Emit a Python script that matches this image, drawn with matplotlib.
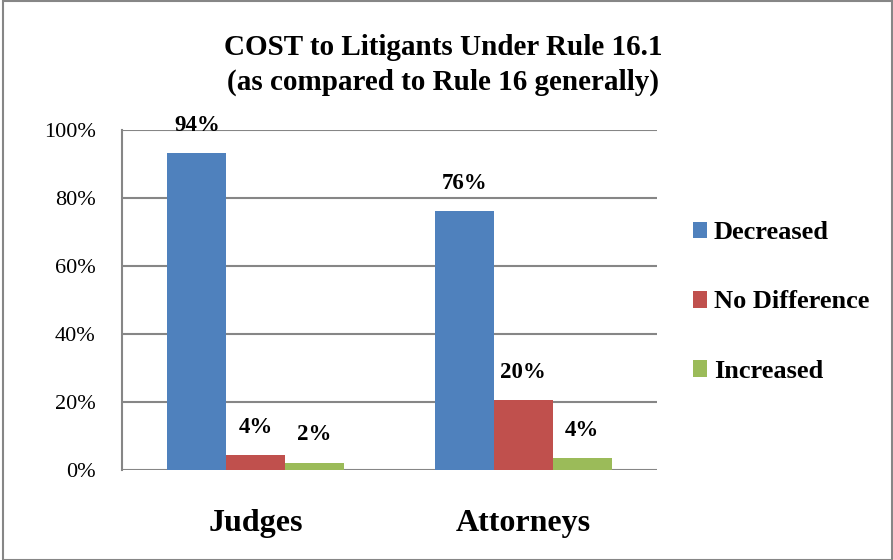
import matplotlib.pyplot as plt
import numpy as np
from matplotlib.patches import Rectangle

categories = ["Judges", "Attorneys"]
series = ["Decreased", "No Difference", "Increased"]
decreased = [0.93, 0.76]
no_difference = [0.045, 0.205]
increased = [0.022, 0.034]
value_labels = [["94%", "76%"], ["4%", "20%"], ["2%", "4%"]]
colors = ["#4F81BD", "#C0504D", "#9BBB59"]
yticks = [0, 0.2, 0.4, 0.6, 0.8, 1.0]
ytick_labels = ["0%", "20%", "40%", "60%", "80%", "100%"]

plt.rcParams['font.family'] = ['Liberation Serif', 'DejaVu Serif']

fig = plt.figure(figsize=(8.93, 5.6), dpi=100)
ax = fig.add_axes([122/893, 1-470/560, (657-122)/893, (470-129.5)/560])

x = np.arange(len(categories))
w = 0.22
for i, (vals, name) in enumerate(zip([decreased, no_difference, increased], series)):
    pos = x + (i - 1) * w
    ax.bar(pos, vals, width=w, color=colors[i], label=name, zorder=3)
    for p, v, lab in zip(pos, vals, value_labels[i]):
        ax.text(p, v + 0.05, lab, ha='center', va='bottom', fontsize=16.5,
                fontweight='bold')

ax.set_xlim(-0.5, 1.5)
ax.set_ylim(0, 1.0)
ax.set_yticks(yticks)
ax.set_yticklabels(ytick_labels, fontsize=16)
ax.set_xticks(x)
ax.set_xticklabels(categories, fontsize=23, fontweight='bold')
ax.tick_params(axis='y', length=0, pad=19)
ax.tick_params(axis='x', length=0, pad=28)
ax.grid(axis='y', color='#868686', linewidth=1.5, zorder=0)
for s in ['top', 'right', 'bottom']:
    ax.spines[s].set_visible(False)
ax.spines['left'].set_color('#868686')
ax.spines['left'].set_linewidth(1.5)

fig.text(443/893, 1-65/560, "COST to Litigants Under Rule 16.1\n(as compared to Rule 16 generally)",
         ha='center', va='center', fontsize=21, fontweight='bold', linespacing=1.35)

leg = fig.legend(loc='center left', bbox_to_anchor=(669/893, 1-302/560), frameon=False,
                 prop={'weight': 'bold', 'size': 19}, handlelength=0.55,
                 handleheight=0.6, handletextpad=0.25, labelspacing=1.75)

fig.patches.append(Rectangle((3/893, 0), 1-4/893, 1-1/560, transform=fig.transFigure,
                             fill=False, edgecolor='#868686', linewidth=1.5))

fig.savefig("out.png", dpi=100)
